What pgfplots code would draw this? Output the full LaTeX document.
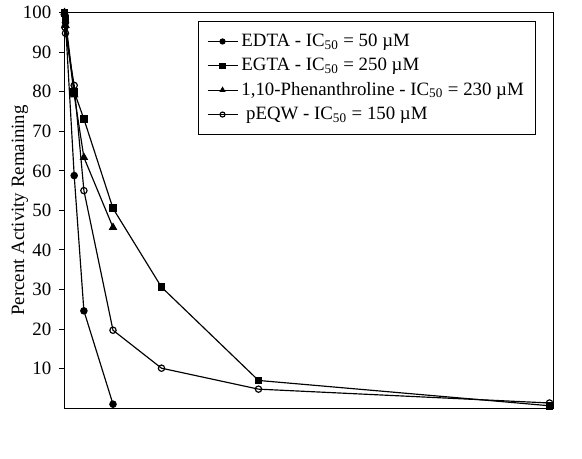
\documentclass[border=0pt]{standalone}
\usepackage{fontspec}
\setmainfont{Liberation Serif}
\usepackage{pgfplots}
\pgfplotsset{compat=1.18}

\begin{document}
\fontsize{11.3}{13.5}\selectfont
\begin{tikzpicture}
\begin{axis}[
    name=main,
    scale only axis,
    width=293.1pt,
    height=237.3pt,
    xmin=0, xmax=2518,
    ymin=0, ymax=100,
    xtick=\empty,
    ytick={10,20,...,100},
    ytick pos=left,
    tick align=outside,
    major tick length=3pt,
    tick style={black, line width=0.6pt},
    axis line style={line width=0.6pt},
    yticklabel style={/pgf/number format/assume math mode=true, xshift=-1pt},
    ylabel={Percent Activity Remaining},
    every axis y label/.style={at={(axis description cs:-0.0911,0.5)}, rotate=90, anchor=center},
    legend style={at={(axis description cs:0.9652,0.9798)}, anchor=north east,
        draw=black, line width=0.6pt, inner xsep=5pt, inner ysep=5.6pt, row sep=1.3pt,
        font=\fontsize{11.3}{13.5}\selectfont},
    legend cell align=left,
    legend image code/.code={
        \draw[mark repeat=2, mark phase=2, #1, mark size=1.5pt]
            plot coordinates {(0pt,0pt) (9pt,0pt) (18pt,0pt)};},
]

% EDTA
\addplot[black, line width=0.7pt, mark=*, mark size=1.9pt] coordinates {
    (0,100) (5,97.5) (50,58.8) (100,24.6) (250,1)
};

% EGTA
\addplot[black, line width=0.7pt, mark=square*, mark size=2pt] coordinates {
    (0,100) (5,98.3) (50,80.0) (100,73.1) (250,50.5) (500,30.6) (1000,7.0) (2500,0.6)
};

% 1,10-Phenanthroline
\addplot[black, line width=0.7pt, mark=triangle*, mark size=2.3pt] coordinates {
    (0,100) (5,96.8) (50,79.2) (100,63.4) (250,45.7)
};

% pEQW
\addplot[black, line width=0.7pt, mark=o, mark size=1.9pt, mark options={fill=white}] coordinates {
    (0,100) (2,96.3) (5,94.8) (50,81.6) (100,55.0) (250,19.7) (500,10.1) (1000,4.8) (2500,1.3)
};

\legend{EDTA - IC\textsubscript{50} = 50 µM,
        EGTA - IC\textsubscript{50} = 250 µM,
        1{,}10-Phenanthroline - IC\textsubscript{50} = 230 µM,
        \ pEQW - IC\textsubscript{50} = 150 µM}
\end{axis}
\path (main.south west) ++(-38.7pt,-30.3pt) coordinate (bl);
\path (main.north east) ++(17.4pt,6pt) coordinate (tr);
\path (bl) rectangle (tr);
\end{tikzpicture}
\end{document}
